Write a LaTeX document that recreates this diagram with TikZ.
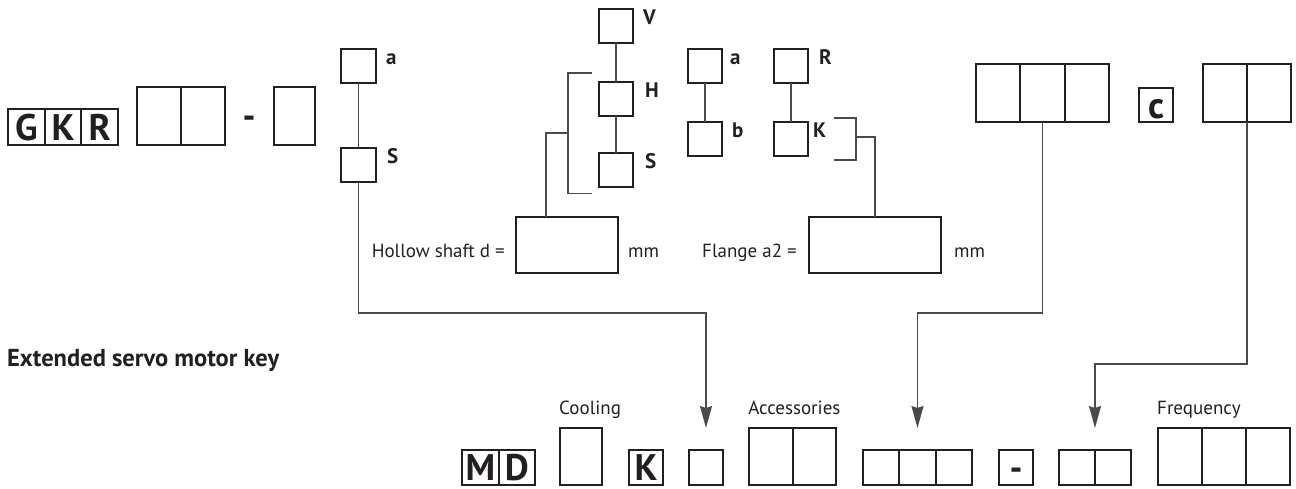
\documentclass[tikz,border=0pt]{standalone}
\usepackage{fontspec}
\setmainfont{PT Sans}
\usetikzlibrary{arrows.meta,calc}
\definecolor{ink}{HTML}{231F20}
\definecolor{wirec}{HTML}{4A4A4A}
\begin{document}
\begin{tikzpicture}[x=1pt,y=-1pt,
  box/.style={draw=ink, line width=2pt, inner sep=0pt, outer sep=0pt},
  bigl/.style={text=ink, font=\bfseries\fontsize{37}{40}\selectfont, text height=26pt, text depth=0pt},
  wire/.style={draw=wirec, line width=1.3pt},
  arr/.style={wire, -{Stealth[length=22pt,width=12pt,inset=2pt]}, shorten >=22pt},
  txt/.style={text=ink, inner sep=0pt, font=\fontsize{19}{22}\selectfont},
  tag/.style={text=ink, inner sep=0pt, font=\bfseries\fontsize{21}{24}\selectfont, anchor=base west},
  head/.style={text=ink, inner sep=0pt, font=\bfseries\fontsize{24.5}{28}\selectfont, anchor=base west},
  dashc/.style={text=ink, inner sep=0pt, font=\bfseries\fontsize{36}{40}\selectfont, anchor=base}
]
\useasboundingbox (0,0) rectangle (1296,488);

% ---------- GKR row ----------
\node[box, bigl, minimum width=36.7pt, minimum height=36pt] (g1) at (26.3,127) {G};
\node[box, bigl, minimum width=36.7pt, minimum height=36pt] (g2) at (63,127) {K};
\node[box, bigl, minimum width=36.7pt, minimum height=36pt] (g3) at (99.7,127) {R};

\node[box, minimum width=44pt, minimum height=58pt] (d1) at (159,116) {};
\node[box, minimum width=44pt, minimum height=58pt] (d2) at (203,116) {};
\node[dashc] (dsh1) at (249,128) {-};
\node[box, minimum width=41pt, minimum height=58pt] (s1) at (294.5,116) {};

\node[box, minimum width=35pt, minimum height=34pt] (ga) at (358.5,66) {};
\node[box, minimum width=35pt, minimum height=34pt] (gs) at (358.5,165) {};
\node[tag] (lga) at ($(ga.north east)+(10,15.5)$) {a};
\node[tag] (lgs) at ($(gs.north east)+(11,15.5)$) {S};

% ---------- V H S column ----------
\node[box, minimum width=34pt, minimum height=34pt] (bv) at (616,26) {};
\node[box, minimum width=34pt, minimum height=34pt] (bh) at (616,99) {};
\node[box, minimum width=34pt, minimum height=34pt] (bs) at (616,170) {};
\node[tag] (lv) at ($(bv.north east)+(10,15.5)$) {V};
\node[tag] (lh) at ($(bh.north east)+(12,15.5)$) {H};
\node[tag] (ls) at ($(bs.north east)+(12,15.5)$) {S};

% ---------- a b column ----------
\node[box, minimum width=34pt, minimum height=34pt] (ba) at (705,66) {};
\node[box, minimum width=34pt, minimum height=34pt] (bb) at (705,138.5) {};
\node[tag] (la) at ($(ba.north east)+(8,15.5)$) {a};
\node[tag] (lb) at ($(bb.north east)+(10,15.5)$) {b};

% ---------- R K column ----------
\node[box, minimum width=34pt, minimum height=34pt] (br) at (791,66) {};
\node[box, minimum width=34pt, minimum height=34pt] (bk) at (791,138.5) {};
\node[tag] (lr) at ($(br.north east)+(11,15.5)$) {R};
\node[tag] (lk) at ($(bk.north east)+(5,15.5)$) {K};

% ---------- top right ----------
\node[box, minimum width=44.3pt, minimum height=58pt] (t1) at (998.2,93) {};
\node[box, minimum width=44.3pt, minimum height=58pt] (t2) at (1042.5,93) {};
\node[box, minimum width=44.3pt, minimum height=58pt] (t3) at (1086.8,93) {};
\node[box, bigl, minimum width=34pt, minimum height=34pt] (bc) at (1156,105) {c};
\node[box, minimum width=44pt, minimum height=58pt] (u1) at (1225,93) {};
\node[box, minimum width=44pt, minimum height=58pt] (u2) at (1269,93) {};

% ---------- dimension boxes ----------
\node[box, minimum width=102pt, minimum height=56pt] (hol) at (567,245) {};
\node[txt, anchor=base east] (lhol) at ($(hol.west)+(-11,12)$) {Hollow shaft d =};
\node[txt, anchor=base west] (mm1) at ($(hol.east)+(10,12)$) {mm};
\node[box, minimum width=132pt, minimum height=56pt] (fla) at (875,245) {};
\node[txt, anchor=base east] (lfla) at ($(fla.west)+(-12,12)$) {Flange a2 =};
\node[txt, anchor=base west] (mm2) at ($(fla.east)+(13,12)$) {mm};

% ---------- heading ----------
\node[head] (hd) at (7,366) {Extended servo motor key};

% ---------- bottom row ----------
\node[box, bigl, minimum width=36.5pt, minimum height=35pt] (m1) at (480.3,467.5) {M};
\node[box, bigl, minimum width=36.5pt, minimum height=35pt] (m2) at (516.8,467.5) {D};
\node[box, minimum width=42pt, minimum height=57pt] (cool) at (581,456.5) {};
\node[txt, anchor=base west] (lcool) at ($(cool.north west)+(-1,-14)$) {Cooling};
\node[box, bigl, minimum width=34pt, minimum height=35pt] (kk) at (646,467.5) {K};
\node[box, minimum width=34pt, minimum height=35pt] (n1) at (706,467.5) {};
\node[box, minimum width=43.5pt, minimum height=57pt] (ac1) at (770.8,456.5) {};
\node[box, minimum width=43.5pt, minimum height=57pt] (ac2) at (814.3,456.5) {};
\node[txt, anchor=base west] (lacc) at ($(ac1.north west)+(-1,-14)$) {Accessories};
\node[box, minimum width=36.3pt, minimum height=35pt] (p1) at (881.2,467.5) {};
\node[box, minimum width=36.3pt, minimum height=35pt] (p2) at (917.5,467.5) {};
\node[box, minimum width=36.3pt, minimum height=35pt] (p3) at (953.8,467.5) {};
\node[box, minimum width=34pt, minimum height=35pt] (dm) at (1016,467.5) {};
\node[dashc] (dsh2) at (1016,480) {-};
\node[box, minimum width=36pt, minimum height=35pt] (q1) at (1077,467.5) {};
\node[box, minimum width=36pt, minimum height=35pt] (q2) at (1113,467.5) {};
\node[box, minimum width=44pt, minimum height=57pt] (f1) at (1180,456.5) {};
\node[box, minimum width=44pt, minimum height=57pt] (f2) at (1224,456.5) {};
\node[box, minimum width=44pt, minimum height=57pt] (f3) at (1268,456.5) {};
\node[txt, anchor=base west] (lfreq) at ($(f1.north west)+(-1,-14)$) {Frequency};

% ---------- connectors ----------
\draw[wire] (ga.south) -- (gs.north);
\draw[wire] (bv.south) -- (bh.north);
\draw[wire] (bh.south) -- (bs.north);
\draw[wire] (ba.south) -- (bb.north);
\draw[wire] (br.south) -- (bk.north);

% left bracket
\coordinate (lb1) at (592,73);
\coordinate (lb2) at (568,73);
\coordinate (lb3) at (568,193.5);
\coordinate (lb4) at (592,193.5);
\coordinate (lbm) at (568,133);
\draw[wire] (lb1) -- (lb2) -- (lb3) -- (lb4);
\draw[wire] (lbm) -| ($(hol.north west)+(30,0)$);

% right bracket
\coordinate (rb1) at (834,118);
\coordinate (rb2) at (856,118);
\coordinate (rb3) at (856,160);
\coordinate (rb4) at (834,160);
\coordinate (rbm) at (856,137);
\draw[wire] (rb1) -- (rb2) -- (rb3) -- (rb4);
\draw[wire] (rbm) -| (fla.north);

% long arrows
\coordinate (j1) at (0,313);
\coordinate (j2) at (0,364);
\draw[arr] (gs.south) -- (gs.south |- j1) -| (n1.north);
\draw[arr] (t2.south) -- (t2.south |- j1) -| (p2.north);
\draw[arr] (u1.south east) -- (u1.south east |- j2) -| (q1.north east);
\end{tikzpicture}
\end{document}
